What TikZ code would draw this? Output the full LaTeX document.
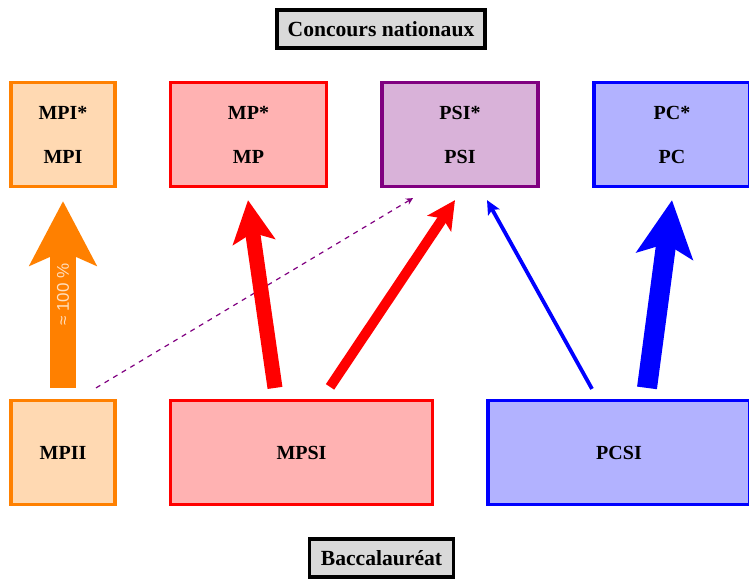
\documentclass[tikz,border=0pt]{standalone}
\usepackage{fontspec}
\setmainfont{Liberation Serif}
\newfontfamily\labelfont{Liberation Sans}
\usetikzlibrary{arrows.meta}
\tikzset{
  filiere/.style={draw=#1,fill=#1!30,line width=1.6pt,align=center,font=\bfseries,inner sep=2pt},
  examen/.style={draw=black,fill=gray!30,line width=1.9pt,font=\bfseries\fontsize{10.8}{12}\selectfont,minimum width=104pt,minimum height=19pt},
  flux/.style={line width=#1,-{Stealth[length=0pt 2.8,width=0pt 2.8,inset=0pt 0.6]}},
}
\begin{document}
\begin{tikzpicture}[x=0.5pt,y=-0.5pt]
\useasboundingbox (0,0) rectangle (749,579);
% concours en haut, bac en bas
\node[examen] (concours) at (381,29) {Concours nationaux};
\node[examen,minimum width=72pt] (bac) at (381.5,558) {Baccalaur\'eat};
% classes de seconde annee
\node[filiere=orange,minimum width=52pt,minimum height=52pt] (mpi) at (63,134.5) {MPI*\\[10pt]MPI};
\node[filiere=red,minimum width=78pt,minimum height=52pt] (mp) at (248.5,134.5) {MP*\\[10pt]MP};
\node[filiere=violet,minimum width=78pt,minimum height=52pt] (psi) at (460,134.5) {PSI*\\[10pt]PSI};
\node[filiere=blue,minimum width=78pt,minimum height=52pt] (pc) at (672,134.5) {PC*\\[10pt]PC};
% classes de premiere annee
\node[filiere=orange,minimum width=52pt,minimum height=52pt] (mpii) at (63,452.5) {MPII};
\node[filiere=red,minimum width=131pt,minimum height=52pt] (mpsi) at (301.5,452.5) {MPSI};
\node[filiere=blue,minimum width=131pt,minimum height=52pt] (pcsi) at (619,452.5) {PCSI};
% flux
\draw[line width=13pt,color=orange,-{Stealth[length=32pt,width=33pt,inset=7pt]}] ([shift={(0,-11)}]mpii.north) -- ([shift={(0,13)}]mpi.south)
  node[midway,sloped,font=\labelfont\fontsize{8.5}{9}\selectfont,text=orange!25] {≈ 100 \%};
\draw[violet,line width=0.6pt,dash pattern=on 2.5pt off 2.5pt,-{Stealth[length=3.5pt,width=3.5pt]}] ([shift={(33,-11)}]mpii.north) -- ([shift={(-47,10)}]psi.south);
\draw[flux=7.5pt,color=red] ([shift={(-26.5,-11)}]mpsi.north) -- ([shift={(-0.5,12)}]mp.south);
\draw[flux=5pt,color=red] ([shift={(28.5,-12)}]mpsi.north) -- ([shift={(-5,12)}]psi.south);
\draw[blue,line width=1.9pt,-{Stealth[length=7pt,width=6.5pt,inset=1.5pt]}] ([shift={(-27,-10)}]pcsi.north) -- ([shift={(27,12)}]psi.south);
\draw[flux=10pt,color=blue] ([shift={(28,-11)}]pcsi.north) -- ([shift={(0,12)}]pc.south);
\end{tikzpicture}
\end{document}
